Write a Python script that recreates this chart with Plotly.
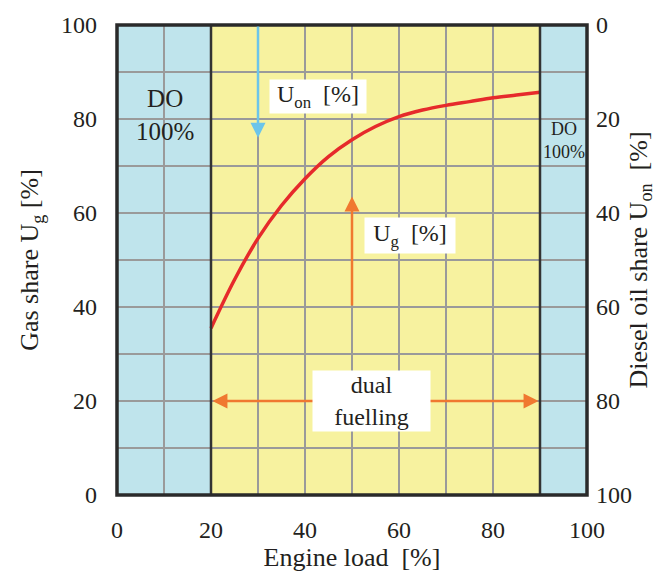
import plotly.graph_objects as go

# Data
load = [20, 25, 30, 35, 40, 45, 50, 55, 60, 65, 70, 75, 80, 85, 90]
gas_share = [35.5, 45.8, 54.6, 61.6, 67.3, 72.0, 75.6, 78.4, 80.5, 81.9, 82.9, 83.7, 84.5, 85.1, 85.7]
do_left = [0, 20]
dual_range = [20, 90]
do_right = [90, 100]
x_ticks = [0, 20, 40, 60, 80, 100]
y_ticks = [0, 20, 40, 60, 80, 100]

FONT = "Liberation Serif, Times New Roman, serif"
TXT = "#231f20"
BLUE_BG = "#bfe4ec"
YEL_BG = "#f7f29f"
ORANGE = "#f07830"
SKY = "#6cc5ea"
RED = "#e62a2b"

fig = go.Figure()
fig.add_trace(go.Scatter(x=load, y=gas_share, mode="lines",
                         line=dict(color=RED, width=3.5, shape="spline", smoothing=1),
                         showlegend=False, hoverinfo="skip"))
fig.add_trace(go.Scatter(x=[0], y=[0], yaxis="y2", mode="markers", marker=dict(opacity=0),
                         showlegend=False, hoverinfo="skip"))

shapes = [
    dict(type="rect", xref="x", yref="y", x0=do_left[0], x1=do_left[1], y0=0, y1=100,
         fillcolor=BLUE_BG, line=dict(width=0), layer="below"),
    dict(type="rect", xref="x", yref="y", x0=dual_range[0], x1=dual_range[1], y0=0, y1=100,
         fillcolor=YEL_BG, line=dict(width=0), layer="below"),
    dict(type="rect", xref="x", yref="y", x0=do_right[0], x1=do_right[1], y0=0, y1=100,
         fillcolor=BLUE_BG, line=dict(width=0), layer="below"),
    dict(type="line", xref="x", yref="y", x0=dual_range[0], x1=dual_range[0], y0=0, y1=100,
         line=dict(color="#333333", width=2.5)),
    dict(type="line", xref="x", yref="y", x0=dual_range[1], x1=dual_range[1], y0=0, y1=100,
         line=dict(color="#333333", width=2.5)),
    dict(type="rect", xref="paper", yref="paper", x0=0, x1=1, y0=0, y1=1,
         line=dict(color="#2a2a2a", width=3.5)),
]

ann = []
f24 = dict(family=FONT, size=24, color=TXT)
ann.append(dict(x=30, y=76, ax=30, ay=100, xref="x", yref="y", axref="x", ayref="y", text="",
                showarrow=True, arrowhead=2, arrowsize=1.2, arrowwidth=2.5, arrowcolor=SKY))
ann.append(dict(x=50, y=63.5, ax=50, ay=40, xref="x", yref="y", axref="x", ayref="y", text="",
                showarrow=True, arrowhead=2, arrowsize=1.2, arrowwidth=2.5, arrowcolor=ORANGE))
ann.append(dict(x=20.3, y=20, ax=45, ay=20, xref="x", yref="y", axref="x", ayref="y", text="",
                showarrow=True, arrowhead=2, arrowsize=1.2, arrowwidth=2.5, arrowcolor=ORANGE))
ann.append(dict(x=89.7, y=20, ax=62, ay=20, xref="x", yref="y", axref="x", ayref="y", text="",
                showarrow=True, arrowhead=2, arrowsize=1.2, arrowwidth=2.5, arrowcolor=ORANGE))
ann.append(dict(x=54.1, y=20, xref="x", yref="y", text="dual<br>fuelling", showarrow=False,
                font=f24, bgcolor="white", width=115, height=58, align="center"))
ann.append(dict(x=42.8, y=84.8, xref="x", yref="y", text="U<sub>on</sub>  [%]", showarrow=False,
                font=f24, bgcolor="white", width=94, height=31))
ann.append(dict(x=62.3, y=55.2, xref="x", yref="y", text="U<sub>g</sub>  [%]", showarrow=False,
                font=f24, bgcolor="white", width=88, height=33))
ann.append(dict(x=10.2, y=80.8, xref="x", yref="y", text="DO<br>100%", showarrow=False,
                font=dict(family=FONT, size=25, color=TXT), align="center"))
ann.append(dict(x=95, y=75.5, xref="x", yref="y", text="DO<br>100%", showarrow=False,
                font=dict(family=FONT, size=18, color=TXT), align="center"))

grid = dict(showgrid=True, gridcolor="#9a9a9a", gridwidth=1.5)
minor = dict(dtick=10, showgrid=True, gridcolor="#9a9a9a", gridwidth=1.5)
tfont = dict(family=FONT, size=24, color=TXT)
ttl = dict(family=FONT, size=26, color=TXT)

fig.update_layout(
    width=656, height=574,
    margin=dict(l=117, r=69, t=25, b=79, autoexpand=False),
    paper_bgcolor="white", plot_bgcolor="white",
    font=dict(family=FONT, size=24, color=TXT),
    shapes=shapes, annotations=ann,
    xaxis=dict(range=[0, 100], tickvals=x_ticks, **grid, minor=minor, automargin=False,
               ticks="", ticklabelstandoff=18, zeroline=False, tickfont=tfont,
               title=dict(text="Engine load  [%]", font=ttl, standoff=4),
               fixedrange=True),
    yaxis=dict(range=[0, 100], tickvals=y_ticks, **grid, minor=minor, automargin=False,
               ticks="", ticklabelstandoff=19, zeroline=False, tickfont=tfont,
               title=dict(text="Gas share U<sub>g</sub> [%]", font=ttl, standoff=14)),
    yaxis2=dict(range=[100, 0], tickvals=y_ticks, overlaying="y", side="right", showgrid=False,
                automargin=False, ticks="", ticklabelstandoff=8, zeroline=False, tickfont=tfont,
                title=dict(text="Diesel oil share U<sub>on</sub>  [%]", font=ttl, standoff=4)),
)

fig.write_html("out.html")
